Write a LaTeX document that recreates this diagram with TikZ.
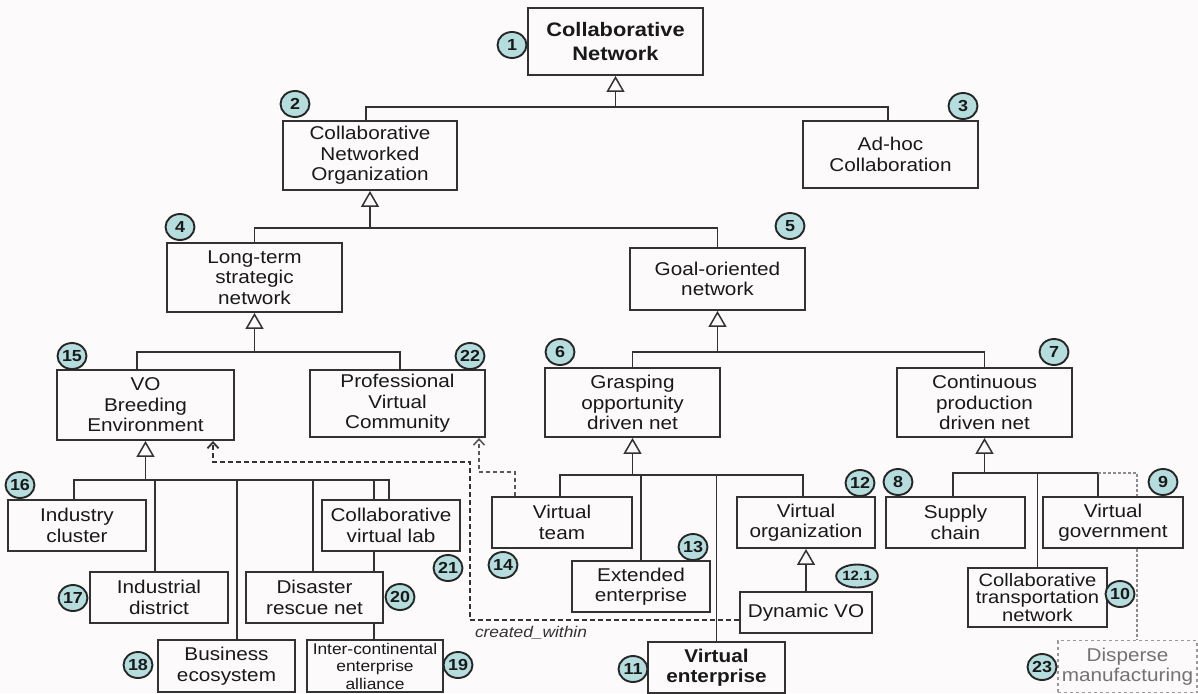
\documentclass[tikz,border=0pt]{standalone}
\usepackage{fontspec}
\setmainfont{Liberation Sans}[FakeStretch=1.12]
\usetikzlibrary{arrows.meta,shapes.geometric}
\definecolor{bgc}{RGB}{252,250,250}
\definecolor{ink}{RGB}{50,50,50}
\definecolor{badgefill}{RGB}{182,221,221}
\pgfdeclarelayer{back}
\pgfdeclarelayer{wires}
\pgfsetlayers{back,wires,main}

\begin{document}
\begin{tikzpicture}[x=1pt,y=-1pt,
  wh/.style 2 args={minimum width=#1pt,minimum height=#2pt},
  box/.style={draw=ink,line width=1.9pt,fill=bgc,align=center,inner sep=0pt,
    text=black!90,font=\fontsize{18.5}{20.5}\selectfont},
  conn/.style={draw=ink,line width=1.5pt},
  gen/.style={conn,-{Triangle[length=16pt,width=18pt,fill=bgc]}},
  badge/.style={ellipse,draw=black!85,line width=1.9pt,fill=badgefill,inner sep=0pt,
    minimum width=29pt,minimum height=26pt,text=black!90,font=\fontsize{16}{16}\bfseries},
  cwline/.style={draw=black!80,line width=2pt,dash pattern=on 5pt off 3pt,
    -{Straight Barb[length=6pt,width=11pt,line width=1.8pt]}},
  pvline/.style={draw=black!65,line width=1.5pt,dash pattern=on 4pt off 3pt,
    -{Straight Barb[length=6pt,width=11pt,line width=1.6pt]}},
  gdash/.style={draw=black!45,line width=1.2pt,dash pattern=on 3pt off 2pt},
]
\begin{pgfonlayer}{back}
  \fill[bgc] (0,0) rectangle (1198,693);
\end{pgfonlayer}
\useasboundingbox (0,0) rectangle (1198,693);

% ---- boxes ----
\node[box,wh={175}{67},font=\fontsize{19.5}{24}\bfseries] (b1) at (615.5,41.5) {Collaborative\\Network};
\node[box,wh={174}{69}] (b2) at (370,155.5) {Collaborative\\Networked\\Organization};
\node[box,wh={175}{67}] (b3) at (890.5,154.5) {Ad-hoc\\Collaboration};
\node[box,wh={175}{69}] (b4) at (254.5,277.5) {Long-term\\strategic\\network};
\node[box,wh={175}{62}] (b5) at (717.5,279) {Goal-oriented\\network};
\node[box,wh={177}{70}] (b15) at (145.5,405) {VO\\Breeding\\Environment};
\node[box,wh={175}{67}] (b22) at (397.5,403.5) {Professional\\Virtual\\Community};
\node[box,wh={175}{69}] (b6) at (632.5,402.5) {Grasping\\opportunity\\driven net};
\node[box,wh={175}{69}] (b7) at (984.5,402.5) {Continuous\\production\\driven net};

\node[box,wh={138}{51}] (b16) at (77,525.5) {Industry\\cluster};
\node[box,wh={138}{51}] (b17) at (159,597.5) {Industrial\\district};
\node[box,wh={137}{52}] (b18) at (226.5,666) {Business\\ecosystem};
\node[box,wh={137}{51}] (b20) at (314.5,597.5) {Disaster\\rescue net};
\node[box,wh={136}{52},font=\fontsize{15.5}{17.5}\selectfont] (b19) at (375,666) {Inter-continental\\enterprise\\alliance};
\node[box,wh={138}{51}] (b21) at (391,525.5) {Collaborative\\virtual lab};

\node[box,wh={140}{51}] (b14) at (562,522.5) {Virtual\\team};
\node[box,wh={138}{51}] (b13) at (641,586.5) {Extended\\enterprise};
\node[box,wh={137}{51},line width=2.4pt,font=\fontsize{18.5}{20.5}\bfseries] (b11) at (716.5,667.5) {Virtual\\enterprise};
\node[box,wh={138}{51}] (b12) at (806,522.5) {Virtual\\organization};
\node[box,wh={132}{41}] (b121) at (806,612.5) {Dynamic VO};

\node[box,wh={139}{51}] (b8) at (955.5,522.5) {Supply\\chain};
\node[box,wh={140}{51}] (b9) at (1113,522.5) {Virtual\\government};
\node[box,wh={139}{59},font=\fontsize{18}{17.5}\selectfont] (b10) at (1037.5,597.5) {Collaborative\\transportation\\network};
\node[box,wh={139}{52},draw=black!40,dashed,text=black!55] (b23) at (1127.5,666.5) {Disperse\\manufacturing};

% ---- generalization connectors ----
\begin{pgfonlayer}{wires}
  \coordinate (k1) at (615.5,107);
  \draw[gen] (k1) -- (b1.south);
  \draw[conn] (k1) -| ([xshift=-4pt]b2.north);
  \draw[conn] (k1) -| ([xshift=-2.5pt]b3.north);

  \coordinate (k2) at (370,228);
  \draw[gen] (k2) -- (b2.south);
  \draw[conn] (k2) -| (b4.north);
  \draw[conn] (k2) -| (b5.north);

  \coordinate (k4) at (254.5,352);
  \draw[gen] (k4) -- (b4.south);
  \draw[conn] (k4) -| ([xshift=-8.5pt]b15.north);
  \draw[conn] (k4) -| ([xshift=2.5pt]b22.north);

  \coordinate (k5) at (717.5,352);
  \draw[gen] (k5) -- (b5.south);
  \draw[conn] (k5) -| (b6.north);
  \draw[conn] (k5) -| (b7.north);

  \coordinate (k15) at (145.5,480);
  \draw[gen] (k15) -- (b15.south);
  \draw[conn] (k15) -| ([xshift=-3pt]b16.north);
  \draw[conn] (k15) -| ([xshift=-4pt]b17.north);
  \draw[conn] (k15) -| ([xshift=10.5pt]b18.north);
  \draw[conn] (k15) -| ([xshift=-1.5pt]b20.north);
  \draw[conn] (k15) -| ([xshift=-1pt]b19.north);
  \draw[conn] (k15) -| ([xshift=-2pt]b21.north);

  \coordinate (k6) at (632.5,475);
  \draw[gen] (k6) -- (b6.south);
  \draw[conn] (k6) -| ([xshift=-2pt]b14.north);
  \draw[conn] (k6) -| (b13.north);
  \draw[conn] (k6) -| (b11.north);
  \draw[conn] (k6) -| ([xshift=-3pt]b12.north);

  \draw[gen] (b121.north) -- (b12.south);

  \coordinate (k7) at (984.5,473);
  \draw[gen] (k7) -- (b7.south);
  \draw[conn] (k7) -| ([xshift=-2.5pt]b8.north);
  \draw[conn] (k7) -| (b10.north);
  \draw[conn] (k7) -| ([xshift=-15pt]b9.north);

  % greyed branch towards disperse manufacturing
  \coordinate (g9) at (1098,473);
  \draw[gdash] (g9) -- (1137,473) -- ([xshift=24pt]b9.north);
  \draw[gdash] ([xshift=24pt]b9.south) -- ([xshift=9.5pt]b23.north);

  % created_within associations
  \draw[cwline] ([yshift=-7pt]b121.west) -| (470,462) -| ([xshift=67.5pt]b15.south);
  \draw[pvline] ([xshift=-47pt]b14.north) -- ++(0,-24) -| ([xshift=81.5pt]b22.south);
\end{pgfonlayer}

\node[font=\fontsize{15.5}{16}\itshape,text=black!80] (cwlabel) at (531,633) {created\_within};

% ---- numbered badges ----
\node[badge] (n1) at (512,45) {1};
\node[badge] (n2) at (295,104) {2};
\node[badge] (n3) at (963,106) {3};
\node[badge] (n4) at (180,227) {4};
\node[badge] (n5) at (790,226) {5};
\node[badge] (n15) at (72,356) {15};
\node[badge] (n22) at (470,356) {22};
\node[badge] (n6) at (560,352) {6};
\node[badge] (n7) at (1054,352) {7};
\node[badge] (n16) at (20,485) {16};
\node[badge] (n17) at (73,598) {17};
\node[badge] (n18) at (138,665) {18};
\node[badge] (n20) at (400,597) {20};
\node[badge] (n19) at (458,665) {19};
\node[badge] (n21) at (448,568) {21};
\node[badge] (n14) at (503,565) {14};
\node[badge] (n13) at (693,547) {13};
\node[badge] (n11) at (633,669) {11};
\node[badge] (n12) at (860,483) {12};
\node[badge,minimum width=38pt,minimum height=23pt,font=\fontsize{13.5}{13.5}\bfseries] (n121) at (857,576) {12.1};
\node[badge] (n8) at (898,482) {8};
\node[badge] (n9) at (1163,482) {9};
\node[badge] (n10) at (1120,594) {10};
\node[badge] (n23) at (1042,667) {23};
\end{tikzpicture}
\end{document}
